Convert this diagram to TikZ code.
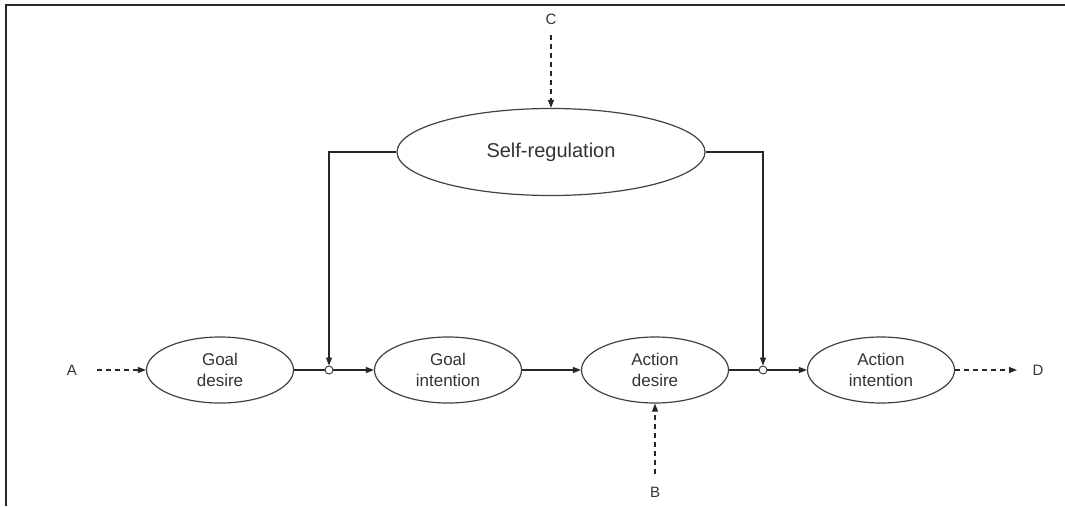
\documentclass[tikz,border=0pt]{standalone}
\usepackage{fontspec}
\setmainfont{Liberation Sans}
\usetikzlibrary{shapes.geometric,arrows.meta}
\begin{document}
\begin{tikzpicture}[x=1pt,y=-1pt,
  state/.style={ellipse,draw=black!75,line width=1.2pt,minimum width=147pt,minimum height=66pt,inner sep=0pt,
    text=black!80,font=\fontsize{17}{21}\selectfont,align=center},
  big/.style={state,minimum width=308pt,minimum height=87pt,font=\fontsize{20}{24}\selectfont},
  lbl/.style={text=black!80,font=\fontsize{15}{18}\selectfont,inner sep=0pt},
  junction/.style={circle,draw=black!80,line width=0.9pt,minimum size=8pt,inner sep=0pt},
  flow/.style={draw=black!85,line width=1.1pt,-{Triangle[length=8pt,width=6pt]}},
  plain/.style={draw=black!85,line width=1.1pt},
  ext/.style={flow,dash pattern=on 5pt off 4pt}]
\useasboundingbox (0,0) rectangle (1065,506);
% frame edges
\draw[line width=2pt,black!85] (6,506) -- (6,5) -- (1065,5);

% nodes
\node[state] (gd) at (220,370) {Goal\\desire};
\node[state] (gi) at (448,370) {Goal\\intention};
\node[state] (ad) at (655,370) {Action\\desire};
\node[state] (ai) at (881,370) {Action\\intention};
\node[big] (sr) at (551,152) {Self-regulation};

\node[junction] (j1) at (329,370) {};
\node[junction] (j2) at (763,370) {};

\node[lbl] (a) at (72,370) {A};
\node[lbl] (d) at (1038,370) {D};
\node[lbl] (c) at (551,19) {C};
\node[lbl] (b) at (655,492) {B};

% main chain
\draw[plain] (gd.east) -- (j1.west);
\draw[flow] (j1.east) -- (gi.west);
\draw[flow] (gi.east) -- (ad.west);
\draw[plain] (ad.east) -- (j2.west);
\draw[flow] (j2.east) -- (ai.west);

% self-regulation feedback
\draw[flow] (sr.west) -| (j1.north);
\draw[flow] (sr.east) -| (j2.north);

% external influences
\draw[ext] (97,370) -- (gd.west);
\draw[ext] (ai.east) -- (1017,370);
\draw[ext] (551,35) -- (sr.north);
\draw[ext] (655,474) -- (ad.south);
\end{tikzpicture}
\end{document}
